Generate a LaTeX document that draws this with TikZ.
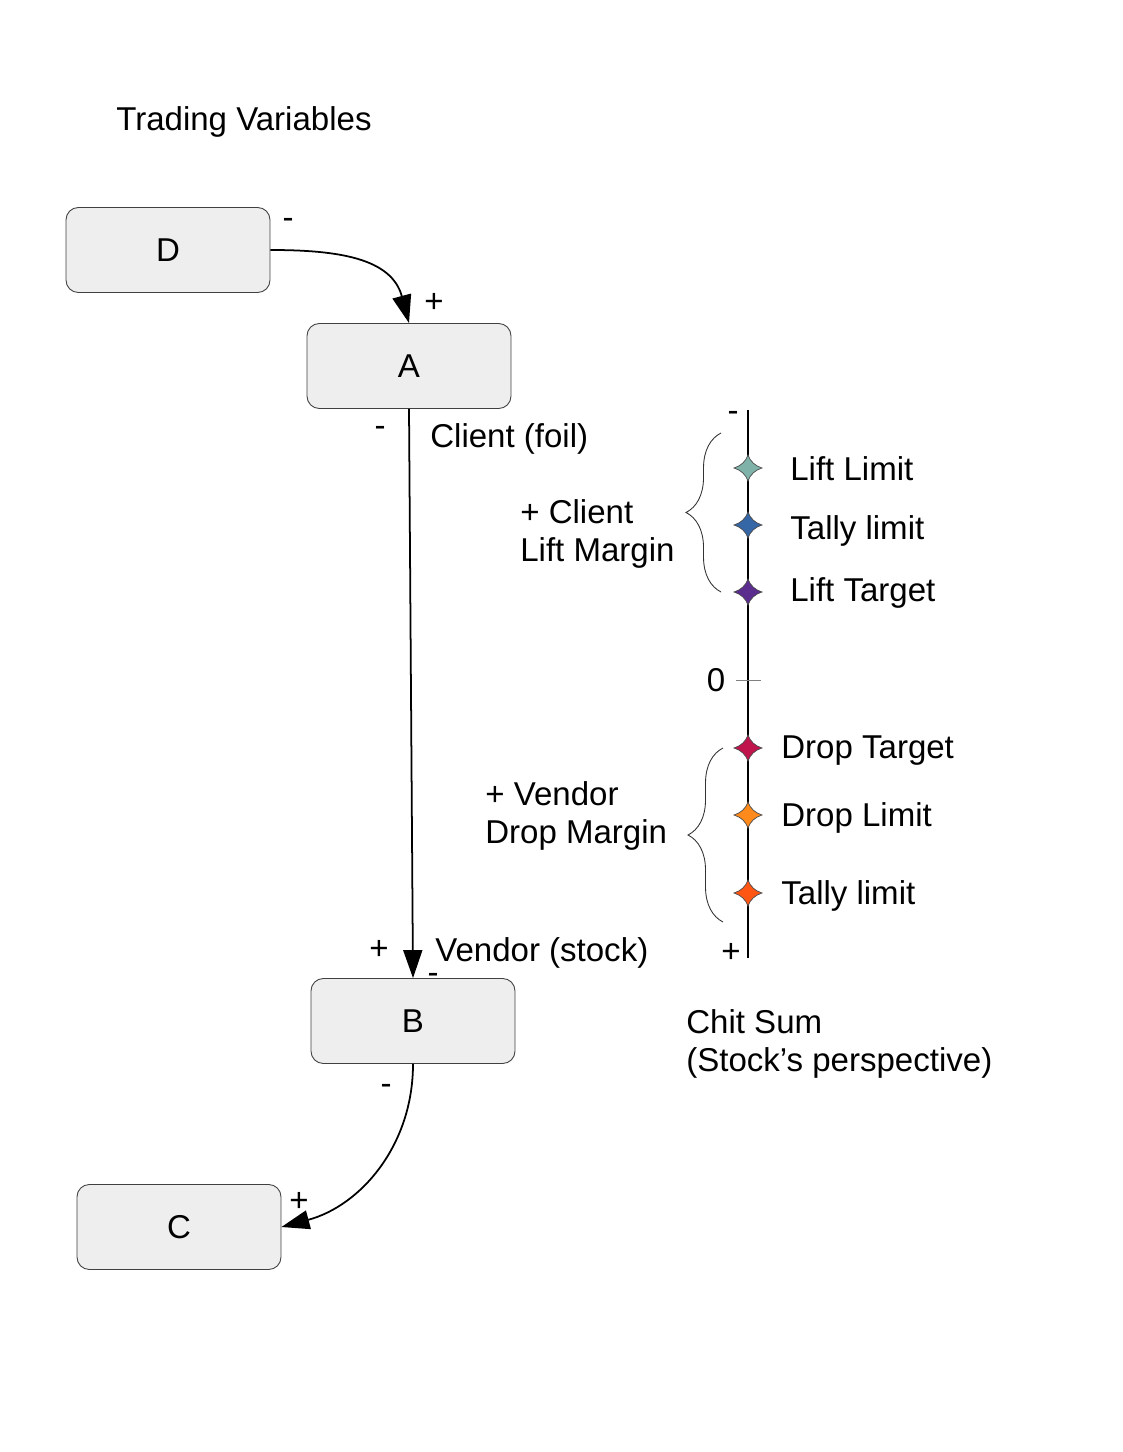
\documentclass[tikz,border=0pt]{standalone}
\usepackage{fontspec}
\setmainfont{Liberation Sans}
\usetikzlibrary{arrows.meta,positioning,decorations.pathreplacing}
\definecolor{boxgray}{HTML}{EEEEEE}
\definecolor{liftlimit}{HTML}{7FB3AA}
\definecolor{tallyblue}{HTML}{3566A6}
\definecolor{lifttarget}{HTML}{5B2D8E}
\definecolor{droptarget}{HTML}{C0144C}
\definecolor{droplimit}{HTML}{FF8A1C}
\definecolor{tallyred}{HTML}{FF5614}

\begin{document}
\begin{tikzpicture}[
        x=0.02cm, y=0.02cm,
        font=\fontsize{18.8}{21.5}\selectfont,
        varbox/.style={
          draw=black!75,
          fill=boxgray,
          rounded corners=7pt,
          minimum width=4.08cm,
          minimum height=1.7cm,
          line width=0.5pt
        },
        txt/.style={inner sep=0pt, anchor=base west},
        sign/.style={inner sep=0pt},
        arrow/.style={
          -{Triangle[length=0.56cm,width=0.38cm]},
          line width=1pt
        },
        margin/.style={
          decorate,
          decoration={brace, amplitude=0.7cm},
          draw=black!80,
          line width=0.5pt
        },
        chitstar/.pic={
          \draw[fill=#1, draw=black!70, line width=0.4pt]
            (0,-13) .. controls (2,-7) and (7,-2) .. (14,0)
            .. controls (7,2) and (2,7) .. (0,13)
            .. controls (-2,7) and (-7,2) .. (-14,0)
            .. controls (-7,-2) and (-2,-7) .. (0,-13) -- cycle;
        }
      ]
      \useasboundingbox (0,0) rectangle (1122,-1452);

      \node[txt] (title) at (116,-131) {Trading Variables};

      % variable boxes
      \node[varbox] (D) at (168,-250) {D};
      \node[varbox] (A) at (409,-366) {A};
      \node[varbox] (B) at (413,-1021) {B};
      \node[varbox] (C) at (179,-1227) {C};

      \draw[arrow] (D.east) to[out=0,in=105,looseness=1.1] (A.north);
      \draw[arrow] (A.south) -- (B.north);
      \draw[arrow] (B.south) to[out=-90,in=15] (C.east);

      \node[sign] (dminus) at (288,-223) {-};
      \node[sign] (aplus) at (434,-303) {+};
      \node[sign] (aminus) at (380,-431) {-};
      \node[txt] (client) at (430,-448) {Client (foil)};
      \node[sign] (bplus) at (379,-950) {+};
      \node[txt] (vendor) at (435,-961) {Vendor (stock)};
      \node[sign] (bdash) at (433,-978) {-};
      \node[sign] (bminus) at (386,-1089) {-};
      \node[sign] (cplus) at (299,-1202) {+};

      % chit sum axis
      \coordinate (axtop) at (748,-410);
      \coordinate (axbot) at (748,-958);
      \draw[line width=0.6pt] (axtop) -- (axbot);
      \node[sign] (axminus) at (733,-416) {-};
      \node[sign] (axplus) at (731,-953) {+};
      \coordinate (zeroleft) at (736,-680);
      \coordinate (zeroright) at (761,-680);
      \draw[black!50, line width=0.5pt] (zeroleft) -- (zeroright);
      \node[sign] (zero) at (716,-680) {0};

      \pic at (748,-468) {chitstar=liftlimit};
      \pic at (748,-525) {chitstar=tallyblue};
      \pic at (748,-592) {chitstar=lifttarget};
      \pic at (748,-748) {chitstar=droptarget};
      \pic at (748,-815) {chitstar=droplimit};
      \pic at (748,-893) {chitstar=tallyred};

      \node[txt] (liftlim) at (790,-480) {Lift Limit};
      \node[txt] (tallyup) at (790,-539) {Tally limit};
      \node[txt] (lifttgt) at (790,-601) {Lift Target};
      \node[txt] (droptgt) at (781,-758) {Drop Target};
      \node[txt] (droplim) at (781,-826) {Drop Limit};
      \node[txt] (tallydn) at (781,-904) {Tally limit};

      % margins
      \coordinate (lifttop) at (721,-433);
      \coordinate (liftbot) at (721,-592);
      \draw[margin] (liftbot) -- (lifttop);
      \node[txt, align=left] (liftmargin) at (520,-561) {+ Client\\Lift Margin};

      \coordinate (droptop) at (723,-748);
      \coordinate (dropbot) at (723,-922);
      \draw[margin] (dropbot) -- (droptop);
      \node[txt, align=left] (dropmargin) at (485,-843) {+ Vendor\\Drop Margin};

      \node[txt, align=left] (chitsum) at (686,-1071) {Chit Sum\\(Stock’s perspective)};

      \end{tikzpicture}
\end{document}
